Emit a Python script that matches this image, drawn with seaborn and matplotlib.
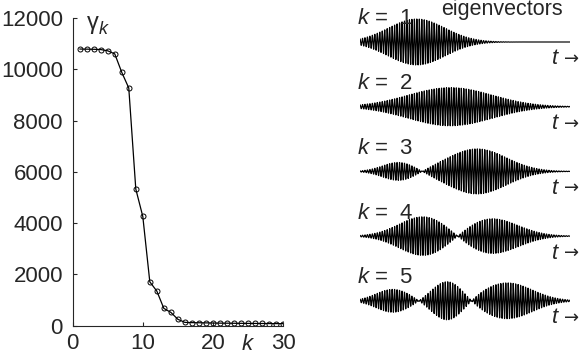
import numpy as np
import pandas as pd
import seaborn as sns
import matplotlib
matplotlib.use('Agg')
import matplotlib.pyplot as plt

# eigenvalues gamma_k
k_vals = list(range(1, 31))
gamma = [10790, 10785, 10780, 10770, 10720, 10600, 9880, 9270, 5330, 4260,
         1710, 1350, 675, 520, 250, 130, 120, 115, 110, 105,
         100, 98, 95, 92, 90, 88, 86, 84, 82, 80]

# eigenvector envelopes: lobes (centre, width, signed amplitude) on t in [0, 1]
ev_labels = ['1', '2', '3', '4', '5']
ev_centers = [[0.27], [0.43], [0.19, 0.557], [0.31, 0.62], [0.157, 0.42, 0.70]]
ev_widths = [[0.135], [0.20], [0.08, 0.14], [0.12, 0.13], [0.08, 0.075, 0.12]]
ev_amps = [[1.0], [0.83], [0.42, -0.98], [0.88, -0.78], [0.50, -0.88, 0.78]]
carrier_cycles = 85

sns.set_style('ticks')
plt.rcParams['font.family'] = ['Liberation Sans', 'DejaVu Sans']
plt.rcParams['mathtext.fontset'] = 'custom'
plt.rcParams['mathtext.rm'] = 'Liberation Sans'
plt.rcParams['mathtext.it'] = 'Liberation Sans:italic'
fs = 16

fig = plt.figure(figsize=(5.8, 3.6), dpi=100)

# ---- left panel: eigenvalues
ax = fig.add_axes([72.7 / 580, 1 - 325.7 / 360, (283 - 72.7) / 580, (325.7 - 18) / 360])
df = pd.DataFrame({'k': k_vals, 'gamma': gamma})
sns.lineplot(data=df, x='k', y='gamma', ax=ax, color='black', lw=0.9,
             marker='o', markersize=3.6, markerfacecolor='none',
             markeredgecolor='black', markeredgewidth=0.7)
ax.set_xlim(0, 30)
ax.set_ylim(0, 12000)
ax.set_xticks([0, 10, 20, 30])
ax.set_yticks(range(0, 12001, 2000))
ax.tick_params(direction='in', length=3, width=0.8, labelsize=fs, pad=5)
ax.tick_params(axis='y', pad=7)
ax.set_xlabel('')
ax.set_ylabel('')
for s in ['top', 'right']:
    ax.spines[s].set_visible(False)
for s in ['left', 'bottom']:
    ax.spines[s].set_linewidth(0.8)
fig.text(247 / 580, 1 - 345 / 360, 'k', style='italic', fontsize=fs,
         ha='center', va='center')
fig.text(87 / 580, 1 - 23 / 360, 'γ', fontsize=fs + 1, ha='left', va='center')
fig.text(98.5 / 580, 1 - 30 / 360, 'k', style='italic', fontsize=fs - 3,
         ha='left', va='center')

# ---- right panel: eigenvectors
ax2 = fig.add_axes([360 / 580, 0, 210 / 580, 1])
ax2.set_xlim(0, 1)
ax2.set_ylim(360, 0)
ax2.axis('off')
t = np.linspace(0, 1, 4000)
row0, row_step, amp_px = 42, 64.7, 23
for i, lab in enumerate(ev_labels):
    env = np.zeros_like(t)
    for c, w, a in zip(ev_centers[i], ev_widths[i], ev_amps[i]):
        env += a * np.exp(-0.5 * ((t - c) / w) ** 2)
    base = row0 + i * row_step
    y = base - amp_px * env * np.cos(2 * np.pi * carrier_cycles * t)
    sns.lineplot(x=t, y=y, ax=ax2, color='black', lw=0.85, sort=False,
                 estimator=None)
    ax2.text(-0.015, base - 23, r'$k$ =  ' + lab, fontsize=fs,
             ha='left', va='center', clip_on=False)
    ax2.text((552 - 360) / 210, base + 17, 't', style='italic', fontsize=fs,
             ha='left', va='center', clip_on=False)
    ax2.text((579.5 - 360) / 210, base + 17, '→', fontsize=13,
             family='DejaVu Sans', ha='right', va='center', clip_on=False)
ax2.text((502 - 360) / 210, 10, 'eigenvectors', fontsize=fs - 0.5,
         ha='center', va='center', clip_on=False)

fig.savefig('out.png', dpi=100)
